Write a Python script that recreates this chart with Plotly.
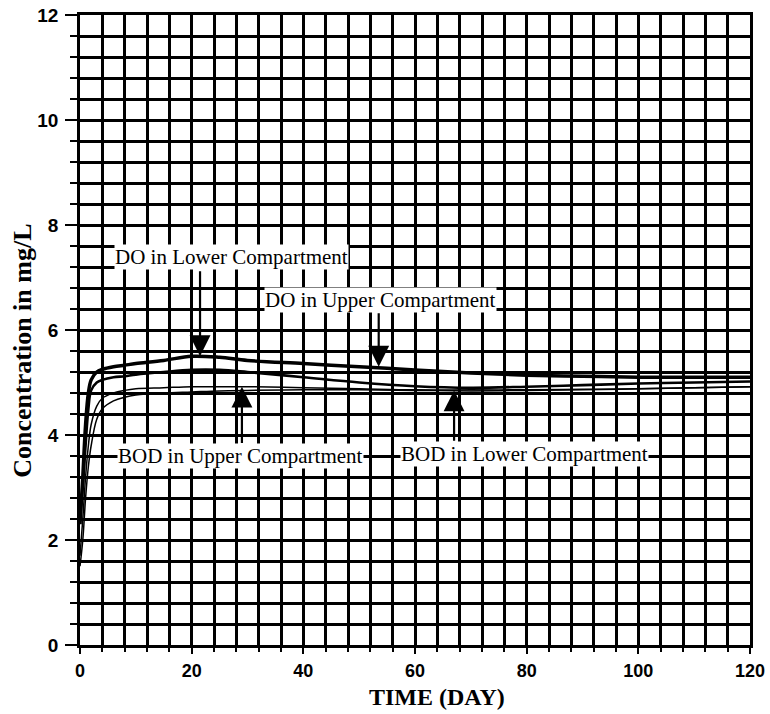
import plotly.graph_objects as go

days = [0, 0.5, 1, 1.5, 2, 3, 4, 6, 8, 10, 15, 20, 25, 30, 40, 50, 60, 70, 80, 90, 100, 110, 120]
do_lower = [2.3, 3.2, 4.2, 4.8, 5.05, 5.2, 5.25, 5.3, 5.33, 5.36, 5.42, 5.5, 5.48, 5.42, 5.36, 5.3, 5.24, 5.18, 5.14, 5.12, 5.1, 5.1, 5.1]
do_upper = [2.4, 3.0, 3.8, 4.5, 4.85, 5.0, 5.05, 5.1, 5.12, 5.15, 5.2, 5.24, 5.24, 5.2, 5.1, 5.0, 4.93, 4.9, 4.92, 4.95, 4.98, 5.0, 5.02]
bod_upper = [1.7, 2.4, 3.2, 3.8, 4.2, 4.55, 4.7, 4.8, 4.85, 4.88, 4.9, 4.92, 4.92, 4.92, 4.9, 4.88, 4.86, 4.86, 4.86, 4.87, 4.88, 4.9, 4.92]
bod_lower = [1.5, 2.0, 2.8, 3.4, 3.8, 4.3, 4.5, 4.65, 4.72, 4.76, 4.8, 4.82, 4.84, 4.85, 4.86, 4.86, 4.85, 4.84, 4.85, 4.86, 4.88, 4.9, 4.92]

x_ticks = [0, 20, 40, 60, 80, 100, 120]
y_ticks = [0, 2, 4, 6, 8, 10, 12]

labels = ["DO in Lower Compartment", "DO in Upper Compartment",
          "BOD in Upper Compartment", "BOD in Lower Compartment"]
label_x = [27.2, 53.8, 28.8, 79.6]
label_y = [7.4, 6.57, 3.6, 3.64]
arrow_x = [21.5, 53.5, 29, 67]
arrow_tip = [5.5, 5.3, 4.92, 4.85]
arrow_tail = [7.15, 6.35, 3.82, 3.86]

fig = go.Figure()
for ys, w in [(do_lower, 3.5), (do_upper, 2.6), (bod_upper, 1.5), (bod_lower, 1.5)]:
    fig.add_trace(go.Scatter(x=days, y=ys, mode="lines", line=dict(color="black", width=w),
                             line_shape="spline", showlegend=False))

serif = "Liberation Serif"
for t, lx, ly in zip(labels, label_x, label_y):
    fig.add_annotation(x=lx, y=ly, xref="x", yref="y", text=t, showarrow=False,
                       bgcolor="white", font=dict(family=serif, size=21, color="black"),
                       borderpad=0)
for axx, tip, tail in zip(arrow_x, arrow_tip, arrow_tail):
    fig.add_annotation(x=axx, y=tip, ax=axx, ay=tail, xref="x", yref="y",
                       axref="x", ayref="y", text="", showarrow=True,
                       arrowhead=2, arrowsize=1.9, arrowwidth=2.2, arrowcolor="black")

# axis titles
fig.add_annotation(x=-0.087, y=5.6, xref="paper", yref="y", text="<b>Concentration in mg/L</b>",
                   textangle=-90, showarrow=False, xanchor="center", yanchor="middle",
                   font=dict(family=serif, size=26, color="black"))
fig.add_annotation(x=64, y=-0.083, xref="x", yref="paper", text="<b>TIME (DAY)</b>",
                   showarrow=False, xanchor="center", yanchor="middle",
                   font=dict(family=serif, size=24, color="black"))

xfont = dict(family="Liberation Sans", size=18, color="black", weight="bold")
yfont = dict(family="Liberation Sans", size=19, color="black", weight="bold")
fig.update_xaxes(range=[0, 120], tickvals=x_ticks, ticks="outside", ticklen=6, tickwidth=2,
                 tickcolor="black", showgrid=True, gridcolor="black", gridwidth=2.5,
                 minor=dict(dtick=4, tick0=0, showgrid=True, gridcolor="black", gridwidth=2.5,
                            ticks="outside", ticklen=4, tickcolor="black"),
                 showline=True, linecolor="black", linewidth=2.5, mirror=True,
                 tickfont=xfont, zeroline=False, ticklabelstandoff=2, automargin=False)
fig.update_yaxes(range=[0, 12], tickvals=y_ticks, ticks="outside", ticklen=12, tickwidth=2,
                 tickcolor="black", showgrid=True, gridcolor="black", gridwidth=2.5,
                 minor=dict(dtick=0.4, tick0=0, showgrid=True, gridcolor="black", gridwidth=2.5,
                            ticks="outside", ticklen=7, tickcolor="black"),
                 showline=True, linecolor="black", linewidth=2.5, mirror=True,
                 tickfont=yfont, zeroline=False, ticklabelstandoff=3, automargin=False)
fig.update_layout(width=770, height=714, margin=dict(l=80, r=20, t=15, b=69),
                  plot_bgcolor="white", paper_bgcolor="white")
fig.write_html("out.html")
